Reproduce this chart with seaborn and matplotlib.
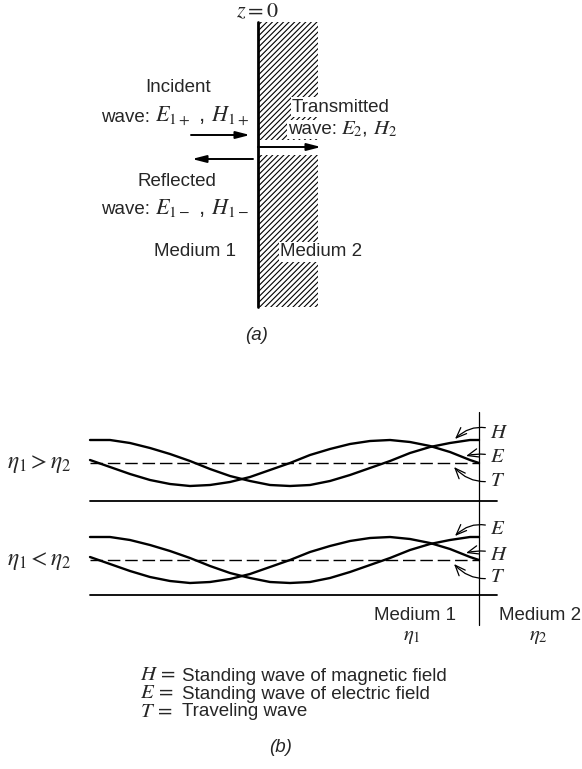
import matplotlib.pyplot as plt
import numpy as np
import pandas as pd
import seaborn as sns
from matplotlib.patches import Rectangle

# sample positions along medium 1 (figure pixels) and the two envelope shapes
wave_x = [90, 110, 130, 150, 170, 190, 210, 230, 250, 270, 290,
          310, 330, 350, 370, 390, 410, 430, 450, 470, 479]
# deviation from the travelling-wave level, positive = upward
peak_at_wall = [23, 23, 20, 15, 9, 2, -6, -13, -18, -22, -23,
                -22, -18, -12, -5, 2, 10, 16, 20, 23, 23]
node_at_wall = [3, -4, -11, -17, -21, -23, -22, -19, -14, -7, 0,
                8, 14, 19, 22, 23, 21, 17, 11, 3, 0]

cases = ["$\\eta_1 > \\eta_2$", "$\\eta_1 < \\eta_2$"]
peak_label = ["H", "E"]   # curve with a maximum at the wall
node_label = ["E", "H"]   # curve crossing the T level at the wall
legend_keys = ["$H\\,=$", "$E\\,=$", "$T\\,=$"]
legend_text = ["Standing wave of magnetic field",
               "Standing wave of electric field",
               "Traveling wave"]

# layout (figure pixels, y down)
level = [463, 560]
baseline = [501, 595]
wall_b = 479

sns.set_theme(style="white")
plt.rcParams["font.family"] = ["Liberation Sans", "DejaVu Sans"]
plt.rcParams["mathtext.fontset"] = "stix"
plt.rcParams["hatch.linewidth"] = 0.8

fig = plt.figure(figsize=(5.82, 7.69), dpi=100)
ax = fig.add_axes([0, 0, 1, 1])

fs = 13.5
mfs = 16
arr = dict(arrowstyle="-|>,head_length=0.7,head_width=0.18", lw=1.4, color="black",
           shrinkA=0, shrinkB=0)
wbox = dict(facecolor="white", edgecolor="none", pad=1)

# ---------- (a) ----------
wall_x, wall_top, wall_bot, slab_w = 258, 22, 307, 60
gap_top, gap_bot = 140, 155
for y0, y1 in [(wall_top, gap_top), (gap_bot, wall_bot)]:
    ax.add_patch(Rectangle((wall_x, y0), slab_w, y1 - y0, hatch="//////", fill=False,
                           lw=0, edgecolor="black"))
ax.plot([wall_x, wall_x], [wall_top, wall_bot], color="black", lw=2.0)

ax.annotate("", xy=(250, 135), xytext=(191, 135), arrowprops=arr)
ax.annotate("", xy=(192, 159), xytext=(253, 159), arrowprops=arr)
ax.annotate("", xy=(321, 147), xytext=(wall_x, 147), arrowprops=arr)

ax.text(257, 12, "$z = 0$", ha="center", va="center", fontsize=16)
ax.text(178, 88, "Incident", ha="center", va="center", fontsize=fs)
ax.text(150, 122, "wave:", ha="right", va="baseline", fontsize=fs)
ax.text(155, 122, "$E_{1+}$ , $H_{1+}$", ha="left", va="baseline", fontsize=mfs)
ax.text(177, 182, "Reflected", ha="center", va="center", fontsize=fs)
ax.text(150, 214, "wave:", ha="right", va="baseline", fontsize=fs)
ax.text(155, 214, "$E_{1-}$ , $H_{1-}$", ha="left", va="baseline", fontsize=mfs)
ax.text(195, 252, "Medium 1", ha="center", va="center", fontsize=fs)
ax.text(280, 252, "Medium 2", ha="left", va="center", fontsize=fs, bbox=wbox, zorder=5)
ax.text(292, 107, "Transmitted", ha="left", va="center", fontsize=fs, bbox=wbox, zorder=5)
ax.text(288, 134, "wave:", ha="left", va="baseline", fontsize=fs, bbox=wbox, zorder=5)
ax.text(341, 134, "$E_2$, $H_2$", ha="left", va="baseline", fontsize=mfs - 1, bbox=wbox, zorder=5)
ax.text(257, 335, "(a)", ha="center", va="center", fontsize=fs, style="italic")

# ---------- (b) ----------
rows = []
for p in range(2):
    for name, prof in [("peak", peak_at_wall), ("node", node_at_wall)]:
        for x, d in zip(wave_x, prof):
            rows.append({"x": x, "y": level[p] - d, "curve": f"{p}-{name}"})
df = pd.DataFrame(rows)
sns.lineplot(data=df, x="x", y="y", units="curve", estimator=None, sort=False,
             color="black", lw=1.7, ax=ax, legend=False)

for p in range(2):
    ax.plot([wave_x[0], wall_b], [level[p], level[p]], color="black", lw=1.0,
            dashes=(9, 3.5))
    ax.plot([wave_x[0], 497], [baseline[p], baseline[p]], color="black", lw=1.3)
    ax.text(7, level[p] + 1, cases[p], ha="left", va="center", fontsize=17)
    labels = [peak_label[p], node_label[p], "T"]
    lab_dy = [-31, -6, 17]
    tip = [(455, -24), (466, -7), (454, 4)]
    rads = [0.35, 0.15, -0.3]
    for lab, dy, (tx, ty), r in zip(labels, lab_dy, tip, rads):
        ax.annotate(f"${lab}$", xy=(tx, level[p] + ty), xytext=(490, level[p] + dy),
                    ha="left", va="center", fontsize=15,
                    arrowprops=dict(arrowstyle="->,head_length=0.5,head_width=0.2", lw=0.9,
                                    color="black", shrinkA=1, shrinkB=0,
                                    connectionstyle=f"arc3,rad={r}"))

ax.plot([wall_b, wall_b], [412, 625], color="black", lw=0.9)
ax.text(415, 616, "Medium 1", ha="center", va="center", fontsize=fs)
ax.text(540, 616, "Medium 2", ha="center", va="center", fontsize=fs)
ax.text(412, 637, "$\\eta_1$", ha="center", va="center", fontsize=15)
ax.text(538, 637, "$\\eta_2$", ha="center", va="center", fontsize=15)

for i, key in enumerate(legend_keys):
    ax.text(140, 680 + 18.5 * i, key, ha="left", va="baseline", fontsize=15)
ax.text(182, 668, "\n".join(legend_text), ha="left", va="top", fontsize=fs,
        linespacing=1.05)
ax.text(281, 748, "(b)", ha="center", va="center", fontsize=fs, style="italic")

ax.set_xlim(0, 582)
ax.set_ylim(769, 0)
ax.axis("off")
fig.savefig("out.png", dpi=100)
